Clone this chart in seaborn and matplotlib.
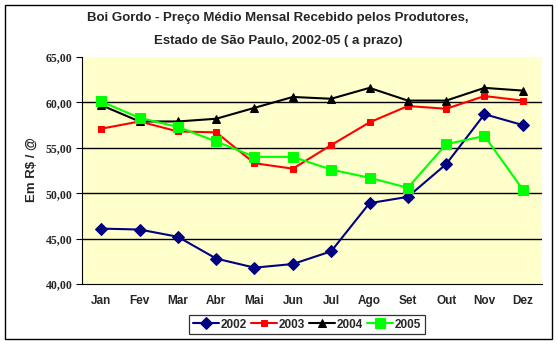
import matplotlib
matplotlib.use("Agg")
import matplotlib.pyplot as plt
from matplotlib.patches import Rectangle
from matplotlib.ticker import FixedLocator, FuncFormatter
import pandas as pd
import seaborn as sns

# Monthly average price received by producers (R$ per arroba)
months = ["Jan", "Fev", "Mar", "Abr", "Mai", "Jun", "Jul", "Ago", "Set", "Out", "Nov", "Dez"]
years = ["2002", "2003", "2004", "2005"]
p2002 = [46.1, 46.0, 45.2, 42.8, 41.8, 42.2, 43.6, 48.9, 49.6, 53.2, 58.7, 57.5]
p2003 = [57.1, 57.9, 56.8, 56.7, 53.3, 52.7, 55.3, 57.8, 59.6, 59.3, 60.7, 60.2]
p2004 = [59.7, 57.9, 57.9, 58.2, 59.4, 60.6, 60.4, 61.6, 60.2, 60.2, 61.6, 61.3]
p2005 = [60.1, 58.3, 57.3, 55.7, 54.0, 54.0, 52.6, 51.7, 50.6, 55.4, 56.3, 50.4]
y_ticks = [40, 45, 50, 55, 60, 65]

series = [p2002, p2003, p2004, p2005]
df = pd.DataFrame({
    "mes": months * len(years),
    "ano": [y for y in years for _ in months],
    "preco": [v for s in series for v in s],
})

sns.set_theme(style="white")
plt.rcParams["font.family"] = ["Liberation Sans", "DejaVu Sans"]
plt.rcParams["font.weight"] = "bold"

W, H = 558, 345
fig = plt.figure(figsize=(W / 100, H / 100), dpi=100)
fig.patch.set_facecolor("white")
ax = fig.add_axes([82 / W, 1 - 284 / H, (542 - 82) / W, (284 - 57) / H])
ax.set_facecolor("#FFFFCC")

palette = {"2002": "#000080", "2003": "#FF0000", "2004": "#000000", "2005": "#00FF00"}
markers = {"2002": "D", "2003": "s", "2004": "^", "2005": "s"}
sizes = {"2002": 6.0, "2003": 5.0, "2004": 5.5, "2005": 7.5}

for yr in years:
    sub = df[df["ano"] == yr]
    sns.lineplot(data=sub, x="mes", y="preco", color=palette[yr], marker=markers[yr],
                 markersize=sizes[yr], markeredgecolor=palette[yr], linewidth=1.5,
                 label=yr, ax=ax, sort=False)

ax.set_xlim(-0.5, len(months) - 0.5)
ax.set_ylim(40, 65)
ax.yaxis.set_major_locator(FixedLocator(y_ticks))
ax.yaxis.set_major_formatter(FuncFormatter(lambda v, _: f"{v:.2f}".replace(".", ",")))
for v in y_ticks[1:-1]:
    ax.axhline(v, color="black", linewidth=1.0, zorder=0.5)

ax.set_xticks(range(len(months)))
ax.set_xticklabels(months)
ax.set_xticks([i - 0.5 for i in range(len(months) + 1)], minor=True)
ax.tick_params(axis="x", which="major", length=0, pad=8, labelsize=8.5)
ax.tick_params(axis="x", which="minor", length=4, width=0.8, color="black", direction="out")
ax.tick_params(axis="y", which="major", length=4, width=0.8, color="black", direction="out",
               labelsize=8.5, pad=3, left=True)
for lab in ax.get_xticklabels():
    lab.set_fontweight("bold")
for lab in ax.get_yticklabels():
    lab.set_fontweight("bold")
    lab.set_fontfamily(["Liberation Serif", "DejaVu Serif"])

for side in ["top", "right"]:
    ax.spines[side].set_visible(False)
for side in ["left", "bottom"]:
    ax.spines[side].set_color("black")
    ax.spines[side].set_linewidth(0.8)

ax.set_xlabel("")
ax.set_ylabel("")
fig.text(32 / W, 1 - 170 / H, "Em R$ / @", rotation=90, ha="center", va="center",
         fontsize=9.5, fontweight="bold")

fig.text(278 / W, 1 - 18 / H, "Boi Gordo - Preço Médio Mensal Recebido pelos Produtores,",
         ha="center", va="center", fontsize=9.5, fontweight="bold")
fig.text(278 / W, 1 - 41 / H, "Estado de São Paulo, 2002-05 ( a prazo)",
         ha="center", va="center", fontsize=9.5, fontweight="bold")

handles, labels = ax.get_legend_handles_labels()
ax.legend_.remove()
leg = fig.legend(handles, labels, loc="center", bbox_to_anchor=(307 / W, 1 - 324.5 / H),
                 ncol=4, frameon=True, fancybox=False, handlelength=2.2,
                 handletextpad=0.15, columnspacing=0.35, borderpad=0.3,
                 prop={"weight": "bold", "size": 8.5})
leg.get_frame().set_edgecolor("black")
leg.get_frame().set_linewidth(0.9)

fig.patches.append(Rectangle((5 / W, 1 - 339 / H), 547 / W, 334 / H, transform=fig.transFigure,
                             fill=False, edgecolor="black", linewidth=1.0, zorder=0))

fig.savefig("out.png", dpi=100)
